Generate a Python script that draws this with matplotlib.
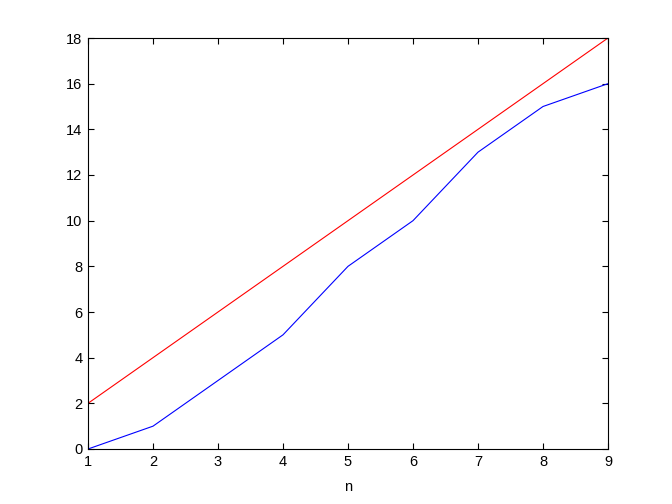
import matplotlib
matplotlib.use("Agg")
import matplotlib.pyplot as plt

n = [1, 2, 3, 4, 5, 6, 7, 8, 9]
blue_vals = [0, 1, 3, 5, 8, 10, 13, 15, 16]
red_vals = [2, 4, 6, 8, 10, 12, 14, 16, 18]
xticks = [1, 2, 3, 4, 5, 6, 7, 8, 9]
yticks = [0, 2, 4, 6, 8, 10, 12, 14, 16, 18]

plt.rcParams['font.family'] = ['Liberation Sans', 'DejaVu Sans']
fig = plt.figure(figsize=(6.72, 5.04), dpi=100)
ax = fig.add_axes([88/672, 1 - 449/504, (608-88)/672, (449-38)/504])
ax.plot(n, blue_vals, color='blue', lw=0.8)
ax.plot(n, red_vals, color='red', lw=0.8)
ax.set_xlim(1, 9)
ax.set_ylim(0, 18)
ax.set_xticks(xticks)
ax.set_yticks(yticks)
ax.tick_params(direction='in', top=True, right=True, length=4, width=0.8, labelsize=10.5, pad=4)
for s in ax.spines.values():
    s.set_linewidth(0.8)
ax.set_xlabel('n', fontsize=10.5, labelpad=8)
fig.savefig('out.png', dpi=100)
